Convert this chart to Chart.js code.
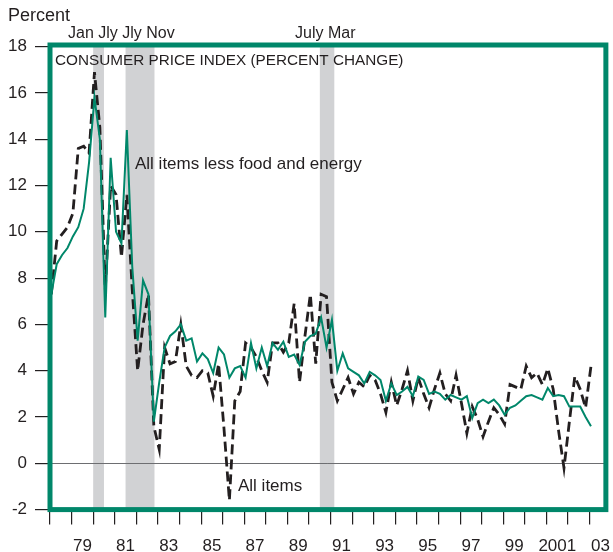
<!DOCTYPE html>
<html>
<head>
<meta charset="utf-8">
<script src="https://cdn.jsdelivr.net/npm/chart.js@4.4.0/dist/chart.umd.min.js"></script>
<style>
  html, body { margin: 0; padding: 0; background: #fff; }
  #wrap { width: 613px; height: 552px; }
</style>
</head>
<body>
<div id="wrap"><canvas id="cpiChart"></canvas></div>
<script>
// quarterly data, 1978 Q1 .. 2003 Q1 (annualized percent change)
const startYear = 1978;
const allItems = [
  7.3, 9.6, 9.9, 10.2, 10.8, 13.6, 13.7, 13.4, 16.9, 14.5,
  7.5, 12.0, 11.6, 8.9, 11.6, 7.5, 4.0, 6.0, 7.3, 1.6,
  0.6, 5.0, 4.3, 4.4, 6.0, 4.2, 3.8, 3.7, 4.0, 3.9,
  2.9, 4.3, 1.5, -1.6, 2.7, 3.1, 5.2, 5.0, 4.6, 4.0,
  3.5, 5.2, 5.2, 4.8, 5.2, 6.9, 3.5, 5.5, 7.3, 4.3,
  7.3, 7.2, 3.5, 2.7, 3.2, 3.7, 3.0, 3.5, 3.3, 3.8,
  3.6, 3.0, 2.2, 3.5, 2.5, 3.2, 4.0, 2.7, 3.7, 3.0,
  2.4, 3.2, 3.9, 3.0, 2.7, 3.8, 2.6, 1.3, 2.45, 1.9,
  1.15, 1.8, 2.4, 2.1, 1.7, 3.4, 3.3, 3.2, 4.2, 3.7,
  3.9, 3.4, 4.1, 3.2, 1.4, -0.2, 1.8, 3.75, 3.2, 2.4,
  4.2
];
const lessFoodEnergy = [
  7.3, 8.6, 9.0, 9.3, 9.8, 10.2, 11.0, 13.0, 15.8, 14.0,
  6.3, 13.2, 10.0, 9.5, 14.4, 8.5, 5.3, 7.9, 7.3, 1.8,
  3.5, 5.0, 5.5, 5.7, 6.0, 5.3, 5.4, 4.4, 4.75, 4.5,
  3.9, 5.0, 4.7, 3.7, 4.1, 4.2, 3.7, 5.2, 4.1, 5.0,
  4.2, 5.2, 4.9, 5.25, 4.6, 4.7, 4.25, 5.25, 5.5, 5.6,
  6.3, 5.0, 6.2, 4.0, 4.75, 4.1, 3.95, 3.8, 3.45, 3.95,
  3.8, 3.6, 2.7, 3.45, 2.95, 3.1, 3.3, 2.9, 3.75, 3.6,
  3.0, 3.1, 3.0, 2.75, 2.95, 2.85, 2.75, 2.9, 1.95, 2.6,
  2.75, 2.6, 2.75, 2.5, 2.1, 2.4, 2.5, 2.7, 2.9, 2.95,
  2.85, 2.75, 3.25, 2.9, 2.95, 2.9, 2.45, 2.45, 2.45, 2.0,
  1.6
];

const yTicks = [-2, 0, 2, 4, 6, 8, 10, 12, 14, 16, 18];
const yearMarks = [1978, 1979, 1980, 1981, 1982, 1983, 1984, 1985, 1986, 1987, 1988, 1989, 1990,
  1991, 1992, 1993, 1994, 1995, 1996, 1997, 1998, 1999, 2000, 2001, 2002, 2003];
const labelYears = [1979, 1981, 1983, 1985, 1987, 1989, 1991, 1993, 1995, 1997, 1999, 2001, 2003];
const yearLabels = ["79", "81", "83", "85", "87", "89", "91", "93", "95", "97", "99", "2001", "03"];
// recessions: Jan-Jul 1980, Jul 1981-Nov 1982, Jul 1990-Mar 1991
const recessions = [[1980.0, 1980.5], [1981.5, 1982.84], [1990.5, 1991.17]];

const green = "#00876a";
const ink = "#231f20";
const font = "'Liberation Sans', Arial, Helvetica, sans-serif";

const toPoints = (vals) => vals.map((v, i) => ({ x: startYear + i / 4 + 0.06, y: v }));

const shading = {
  id: "shading",
  beforeDatasetsDraw(c) {
    const { ctx, chartArea: a, scales: { x, y } } = c;
    ctx.save();
    ctx.fillStyle = "#d1d2d4";
    recessions.forEach(([s, e]) => {
      const x1 = x.getPixelForValue(s), x2 = x.getPixelForValue(e);
      ctx.fillRect(x1, a.top, x2 - x1, a.bottom - a.top);
    });
    // zero line
    const y0 = Math.round(y.getPixelForValue(0)) + 0.5;
    ctx.strokeStyle = "#6d6e71";
    ctx.lineWidth = 1;
    ctx.beginPath();
    ctx.moveTo(a.left, y0);
    ctx.lineTo(a.right, y0);
    ctx.stroke();
    ctx.restore();
  },
};

const frame = {
  id: "frame",
  afterDatasetsDraw(c) {
    const { ctx, chartArea: a } = c;
    ctx.save();
    ctx.strokeStyle = green;
    ctx.lineWidth = 5;
    ctx.strokeRect(a.left, a.top, a.right - a.left, a.bottom - a.top);
    ctx.restore();
  },
  afterDraw(c) {
    const { ctx } = c;
    ctx.save();
    ctx.fillStyle = ink;
    ctx.textBaseline = "alphabetic";
    ctx.font = "18px " + font;
    ctx.fillText("Percent", 8, 21);
    ctx.font = "16px " + font;
    ctx.fillText("Jan Jly Jly Nov", 68, 38);
    ctx.fillText("July Mar", 295, 38);
    ctx.font = "15.3px " + font;
    ctx.fillText("CONSUMER PRICE INDEX (PERCENT CHANGE)", 55, 65);
    ctx.font = "17px " + font;
    ctx.fillText("All items less food and energy", 135, 169);
    ctx.fillText("All items", 238, 491);
    ctx.restore();
  },
};

new Chart(document.getElementById("cpiChart"), {
  type: "line",
  data: {
    datasets: [
      {
        label: "All items less food and energy",
        data: toPoints(lessFoodEnergy),
        borderColor: green,
        borderWidth: 2,
        pointRadius: 0,
        tension: 0,
      },
      {
        label: "All items",
        data: toPoints(allItems),
        borderColor: ink,
        borderWidth: 2.8,
        borderDash: [10, 5],
        pointRadius: 0,
        tension: 0,
      },
    ],
  },
  options: {
    animation: false,
    responsive: true,
    maintainAspectRatio: false,
    devicePixelRatio: 1,
    layout: { padding: { top: 45, right: 3.5, left: 0, bottom: 0 } },
    plugins: { legend: { display: false }, tooltip: { enabled: false } },
    scales: {
      x: {
        type: "linear",
        position: "bottom",
        weight: 0,
        min: 1978,
        max: 2003.75,
        afterBuildTicks: (s) => { s.ticks = yearMarks.map((v) => ({ value: v })); },
        afterFit: (s) => { s.height = 16; },
        ticks: { display: false },
        grid: { drawOnChartArea: false, tickLength: 15, color: ink, lineWidth: 1.2 },
        border: { display: false },
      },
      x2: {
        type: "linear",
        position: "bottom",
        weight: 1,
        min: 1978,
        max: 2003.75,
        afterBuildTicks: (s) => { s.ticks = labelYears.map((v) => ({ value: v + 0.5 })); },
        afterFit: (s) => { s.height = 26.4; },
        ticks: {
          autoSkip: false,
          maxRotation: 0,
          minRotation: 0,
          padding: 3,
          color: ink,
          font: { family: font, size: 17 },
          callback: (v, i) => yearLabels[i],
        },
        grid: { display: false },
        border: { display: false },
      },
      y: {
        min: -2,
        max: 18.07,
        afterBuildTicks: (s) => { s.ticks = yTicks.map((v) => ({ value: v })); },
        afterFit: (s) => { s.width = 50; },
        ticks: {
          padding: 8,
          color: ink,
          font: { family: font, size: 17 },
          callback: (v) => String(v),
        },
        grid: { drawOnChartArea: false, tickLength: 15, color: ink, lineWidth: 1.2 },
        border: { display: false },
      },
    },
  },
  plugins: [shading, frame],
});
</script>
</body>
</html>
